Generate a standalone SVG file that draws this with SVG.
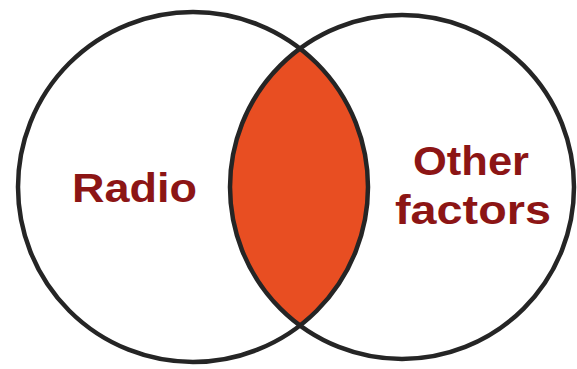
<svg xmlns="http://www.w3.org/2000/svg" width="577" height="369" viewBox="0 0 577 369">
<style>
.ring{fill:none;stroke:#252525;stroke-width:4.5}
.lbl{font-family:"Liberation Sans",Arial,sans-serif;font-weight:bold;font-size:41px;fill:#8c1515;text-anchor:middle}
</style>
<defs>
<clipPath id="clipL"><circle cx="193" cy="187" r="175"/></clipPath>
</defs>
<rect width="577" height="369" fill="#ffffff"/>
<g id="lens">
<circle cx="402" cy="187" r="172" fill="#e84e22" clip-path="url(#clipL)"/>
</g>
<g id="connectors"></g>
<g id="radio">
<circle class="ring" cx="193" cy="187" r="175"/>
<text class="lbl" x="134.5" y="202" textLength="125" lengthAdjust="spacingAndGlyphs">Radio</text>
</g>
<g id="other">
<circle class="ring" cx="402" cy="187" r="172"/>
<text class="lbl" x="471" y="175" textLength="116" lengthAdjust="spacingAndGlyphs">Other</text>
<text class="lbl" x="473" y="224" textLength="156" lengthAdjust="spacingAndGlyphs">factors</text>
</g>
</svg>
